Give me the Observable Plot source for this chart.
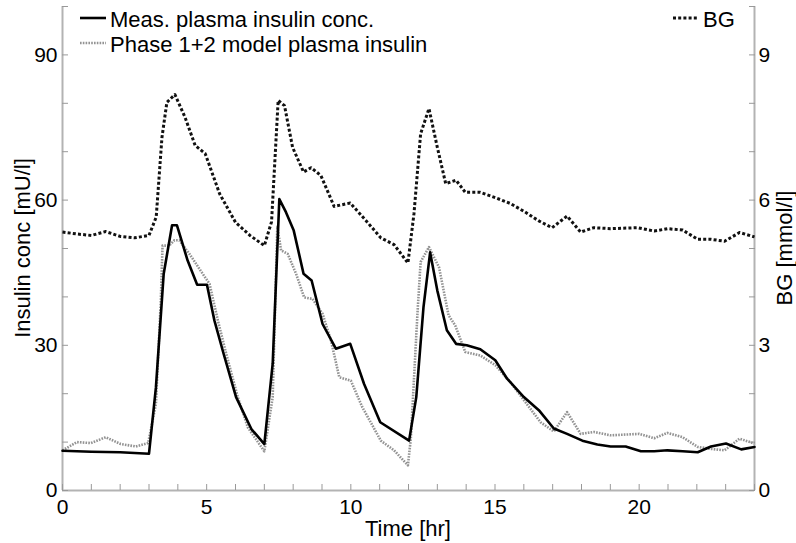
<!DOCTYPE html>
<html>
<head>
<meta charset="utf-8">
<script src="https://cdn.jsdelivr.net/npm/d3@7"></script>
<script src="https://cdn.jsdelivr.net/npm/@observablehq/plot@0.6"></script>
<style>
  body { margin: 0; background: #fff; }
  #chart svg { display: block; }
</style>
</head>
<body>
<div id="chart"></div>
<script>
// ---- Data ----
const measTime = [0, 1, 2, 3.0, 3.24, 3.51, 3.8, 3.97, 4.34, 4.67, 5.01, 5.27, 5.59, 6.02, 6.55, 7.0, 7.29, 7.52, 7.75, 8.02, 8.36, 8.64, 9.02, 9.48, 9.98, 10.46, 11.02, 12.02, 12.27, 12.52, 12.75, 13.0, 13.33, 13.65, 14.02, 14.49, 15.01, 15.42, 16.0, 16.52, 17.04, 17.5, 18.03, 18.55, 19.01, 19.53, 20.06, 20.52, 20.98, 21.51, 22.03, 22.49, 23.01, 23.54, 24.0];
const measInsulin = [8.2, 8.0, 7.9, 7.6, 21.3, 44.8, 54.8, 54.8, 47.5, 42.5, 42.5, 35.1, 28.2, 19.3, 12.7, 9.6, 26.2, 60.2, 57.5, 53.7, 44.8, 43.4, 34.4, 29.3, 30.3, 22.0, 14.1, 10.3, 19.3, 37.9, 49.2, 41.3, 33.1, 30.3, 30.0, 29.2, 26.9, 23.1, 19.3, 16.6, 12.8, 11.7, 10.3, 9.5, 9.1, 9.1, 8.1, 8.1, 8.3, 8.1, 7.9, 9.1, 9.7, 8.5, 9.0];

const modelTime = [0, 0.5, 0.98, 1.5, 2.02, 2.54, 2.97, 3.24, 3.41, 3.47, 3.7, 3.88, 4.05, 4.4, 4.86, 5.1, 5.39, 5.68, 6.08, 6.43, 7.0, 7.29, 7.45, 7.58, 7.81, 8.1, 8.38, 8.67, 9.02, 9.31, 9.6, 10.0, 10.4, 11.04, 11.5, 11.98, 12.08, 12.31, 12.42, 12.71, 13.06, 13.39, 13.62, 13.97, 14.49, 15.01, 15.53, 16.05, 16.58, 17.04, 17.5, 17.97, 18.43, 19.01, 20.0, 20.52, 20.98, 21.51, 22.03, 22.49, 22.96, 23.48, 24.0];
const modelInsulin = [8.3, 10.0, 9.8, 11.0, 9.6, 9.1, 9.8, 17.9, 39.3, 50.6, 50.6, 51.7, 51.7, 48.9, 44.8, 42.7, 35.1, 28.2, 19.3, 13.0, 8.1, 19.3, 54.5, 49.6, 48.9, 44.8, 39.9, 39.6, 36.5, 31.0, 23.4, 22.7, 17.2, 10.3, 8.3, 5.2, 10.7, 36.5, 47.2, 50.3, 46.1, 36.2, 34.1, 28.6, 27.9, 25.9, 22.4, 18.3, 14.1, 12.2, 16.2, 11.7, 12.1, 11.4, 11.7, 10.8, 11.9, 11.0, 9.0, 8.6, 8.3, 10.7, 9.7];

const bgTime = [0, 0.5, 1.0, 1.5, 2.0, 2.5, 3.0, 3.25, 3.45, 3.62, 3.9, 4.25, 4.6, 4.95, 5.45, 6.0, 6.5, 7.0, 7.25, 7.48, 7.7, 7.98, 8.36, 8.62, 8.96, 9.42, 9.98, 10.52, 11.04, 11.5, 11.98, 12.19, 12.42, 12.71, 13.0, 13.29, 13.65, 13.97, 14.49, 15.01, 15.53, 16.0, 16.52, 16.98, 17.5, 17.97, 18.43, 19.01, 19.94, 20.52, 20.98, 21.51, 22.03, 22.49, 22.96, 23.48, 24.0];
const bgValue = [5.34, 5.30, 5.27, 5.35, 5.25, 5.22, 5.27, 5.65, 7.3, 8.02, 8.18, 7.71, 7.13, 6.96, 6.13, 5.54, 5.27, 5.06, 5.55, 8.06, 7.95, 7.09, 6.58, 6.67, 6.51, 5.87, 5.94, 5.58, 5.22, 5.08, 4.70, 5.72, 7.37, 7.89, 7.09, 6.34, 6.41, 6.16, 6.16, 6.05, 5.93, 5.77, 5.57, 5.43, 5.67, 5.34, 5.43, 5.41, 5.43, 5.36, 5.41, 5.38, 5.19, 5.19, 5.15, 5.33, 5.24];

// ---- Ticks & labels ----
const xTicks = [0,1,2,3,4,5,6,7,8,9,10,11,12,13,14,15,16,17,18,19,20,21,22,23,24];
const xTickLabels = [0, 5, 10, 15, 20];
const yTicks = [0,10,20,30,40,50,60,70,80,90,100];
const yTickLabels = [0, 30, 60, 90];
const bgTickLabels = [0, 3, 6, 9];
const bgScaleFactor = 10; // right axis (mmol/l) shares the frame with left (mU/l)

const xLabel = "Time [hr]";
const yLabel = "Insulin conc [mU/l]";
const y2Label = "BG [mmol/l]";
const legendLeft = ["Meas. plasma insulin conc.", "Phase 1+2 model plasma insulin"];
const legendRight = "BG";

// ---- Tables for Plot ----
const meas = measTime.map((t, i) => ({t, v: measInsulin[i]}));
const model = modelTime.map((t, i) => ({t, v: modelInsulin[i]}));
const bg = bgTime.map((t, i) => ({t, v: bgValue[i]}));

const FONT = '"Liberation Sans", Arial, Helvetica, sans-serif';
const AXIS_GRAY = "#b3b3b3";
const BG_DASH = "3,2.2";
const MODEL_DASH = "1.6,1.2";
const MODEL_GRAY = "#939393";

const W = 796, H = 543;
const mL = 62, mR = 42, mT = 6, mB = 53;

const chart = Plot.plot({
  width: W,
  height: H,
  marginLeft: mL,
  marginRight: mR,
  marginTop: mT,
  marginBottom: mB,
  style: {fontFamily: FONT, fontSize: "21px", color: "#000", background: "#fff", overflow: "visible"},
  x: {domain: [0, 24]},
  y: {domain: [0, 100]},
  marks: [
    // axis lines
    Plot.ruleX([0, 24], {stroke: AXIS_GRAY, strokeWidth: 2}),
    Plot.ruleY([0], {stroke: AXIS_GRAY, strokeWidth: 2}),
    // axes with inward ticks
    Plot.axisX({ticks: xTicks, tickSize: -6, tickPadding: 15, stroke: "#999",
      tickFormat: d => xTickLabels.includes(d) ? String(d) : "", label: null}),
    Plot.axisY({ticks: yTicks, tickSize: -6, tickPadding: 11, stroke: "#999",
      tickFormat: d => yTickLabels.includes(d) ? String(d) : "", label: null}),
    Plot.axisY({anchor: "right", ticks: yTicks, tickSize: -6, tickPadding: 10, stroke: "#999",
      tickFormat: d => bgTickLabels.includes(d / bgScaleFactor) ? String(d / bgScaleFactor) : "", label: null}),
    // series (order: BG, model, measured)
    Plot.line(bg, {x: "t", y: d => d.v * bgScaleFactor, stroke: "#111", strokeWidth: 3, strokeDasharray: BG_DASH}),
    Plot.line(model, {x: "t", y: "v", stroke: MODEL_GRAY, strokeWidth: 2.6, strokeDasharray: MODEL_DASH}),
    Plot.line(meas, {x: "t", y: "v", stroke: "#000", strokeWidth: 2.6})
  ]
});

document.getElementById("chart").append(chart);

const svg = d3.select(chart);
// make sure the dash patterns land on the drawn paths
const lineGroups = svg.selectAll('g[aria-label="line"]').nodes();
if (lineGroups.length === 3) {
  d3.select(lineGroups[0]).selectAll("path").attr("stroke-dasharray", BG_DASH).attr("stroke-linecap", "butt");
  d3.select(lineGroups[1]).selectAll("path").attr("stroke-dasharray", MODEL_DASH).attr("stroke-linecap", "butt");
}

// ---- Axis titles & legend (real text) ----
const txt = (x, y, s, anchor, rot) => {
  const t = svg.append("text")
    .attr("font-family", FONT).attr("font-size", 22).attr("fill", "#000")
    .attr("text-anchor", anchor || "start").text(s);
  if (rot) t.attr("transform", `translate(${x},${y}) rotate(${rot})`);
  else t.attr("x", x).attr("y", y);
  return t;
};
const plotCx = (mL + (W - mR)) / 2;
const plotCy = (mT + (H - mB)) / 2;
txt(plotCx, 536, xLabel, "middle");
txt(30, plotCy, yLabel, "middle", -90);
txt(792, plotCy, y2Label, "middle", -90);

// legend
const leg = svg.append("g");
leg.append("line").attr("x1", 80).attr("x2", 106).attr("y1", 18).attr("y2", 18)
  .attr("stroke", "#000").attr("stroke-width", 2.6);
leg.append("line").attr("x1", 80).attr("x2", 106).attr("y1", 43).attr("y2", 43)
  .attr("stroke", MODEL_GRAY).attr("stroke-width", 2.6).attr("stroke-dasharray", MODEL_DASH);
leg.append("line").attr("x1", 673).attr("x2", 697).attr("y1", 18).attr("y2", 18)
  .attr("stroke", "#111").attr("stroke-width", 3).attr("stroke-dasharray", BG_DASH);
txt(110, 26.5, legendLeft[0]);
txt(110, 52, legendLeft[1]);
txt(703, 26.5, legendRight);
</script>
</body>
</html>
